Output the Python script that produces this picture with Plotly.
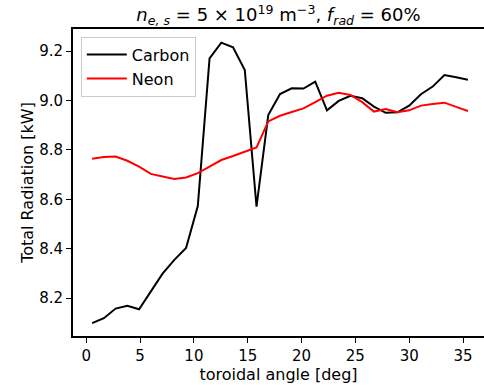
import plotly.graph_objects as go

n_points = 33
angle_step = 36 / 33
toroidal_angle = [(i + 0.5) * angle_step for i in range(n_points)]

carbon = [8.099, 8.119, 8.158, 8.169, 8.155, 8.227, 8.299, 8.355, 8.403, 8.573,
          9.170, 9.234, 9.215, 9.123, 8.570, 8.941, 9.026, 9.049, 9.048, 9.076,
          8.960, 8.998, 9.019, 9.009, 8.975, 8.950, 8.952, 8.979, 9.025, 9.056,
          9.103, 9.094, 9.084]

neon = [8.764, 8.771, 8.773, 8.756, 8.732, 8.703, 8.692, 8.682, 8.688, 8.706,
        8.732, 8.759, 8.775, 8.793, 8.810, 8.915, 8.938, 8.953, 8.968, 8.993,
        9.019, 9.031, 9.022, 8.993, 8.955, 8.965, 8.952, 8.960, 8.979, 8.986,
        8.991, 8.974, 8.957]

x_ticks = [0, 5, 10, 15, 20, 25, 30, 35]
y_ticks = [8.2, 8.4, 8.6, 8.8, 9.0, 9.2]

FONT = "DejaVu Sans"

fig = go.Figure()
fig.add_trace(go.Scatter(x=toroidal_angle, y=carbon, mode="lines", name="Carbon",
                         line=dict(color="black", width=2)))
fig.add_trace(go.Scatter(x=toroidal_angle, y=neon, mode="lines", name="Neon",
                         line=dict(color="red", width=2)))

fig.update_layout(
    width=484, height=385,
    margin=dict(l=73, r=0, t=29, b=49),
    plot_bgcolor="white", paper_bgcolor="white",
    font=dict(family=FONT, size=15, color="black"),
    title=dict(
        text="<i>n</i><sub><i>e, s</i></sub> = 5 × 10<sup>19</sup> m<sup>−3</sup>, <i>f</i><sub><i>rad</i></sub> = 60%",
        x=(73 + 484) / 2 / 484, xanchor="center",
        y=1 - 15 / 385, yanchor="middle",
        font=dict(family=FONT, size=18, color="black"),
    ),
    showlegend=True,
    legend=dict(
        x=0.019, y=0.975, xanchor="left", yanchor="top",
        bgcolor="rgba(255,255,255,0.8)", bordercolor="#cccccc", borderwidth=1,
        font=dict(family=FONT, size=16, color="black"),
        tracegroupgap=0, itemwidth=40,
    ),
)

fig.update_xaxes(
    range=[-1.23, 36.95], tickvals=x_ticks, ticktext=[str(v) for v in x_ticks],
    showgrid=False, zeroline=False,
    showline=True, linecolor="black", linewidth=2, mirror=True,
    ticks="outside", ticklen=5, tickwidth=1.2, tickcolor="black",
    tickfont=dict(family=FONT, size=15),
    title=dict(text="toroidal angle [deg]", standoff=0, font=dict(family=FONT, size=16)),
)
fig.update_yaxes(
    range=[8.047, 9.289], tickvals=y_ticks, ticktext=[f"{v:.1f}" for v in y_ticks],
    showgrid=False, zeroline=False,
    showline=True, linecolor="black", linewidth=2,
    ticks="outside", ticklen=5, tickwidth=1.2, tickcolor="black",
    tickfont=dict(family=FONT, size=15),
    title=dict(text="Total Radiation [kW]", standoff=2, font=dict(family=FONT, size=16)),
)

fig.write_html("out.html",
               config={"displayModeBar": False},
               post_script="document.body.style.margin='0';document.body.style.overflow='hidden';")
